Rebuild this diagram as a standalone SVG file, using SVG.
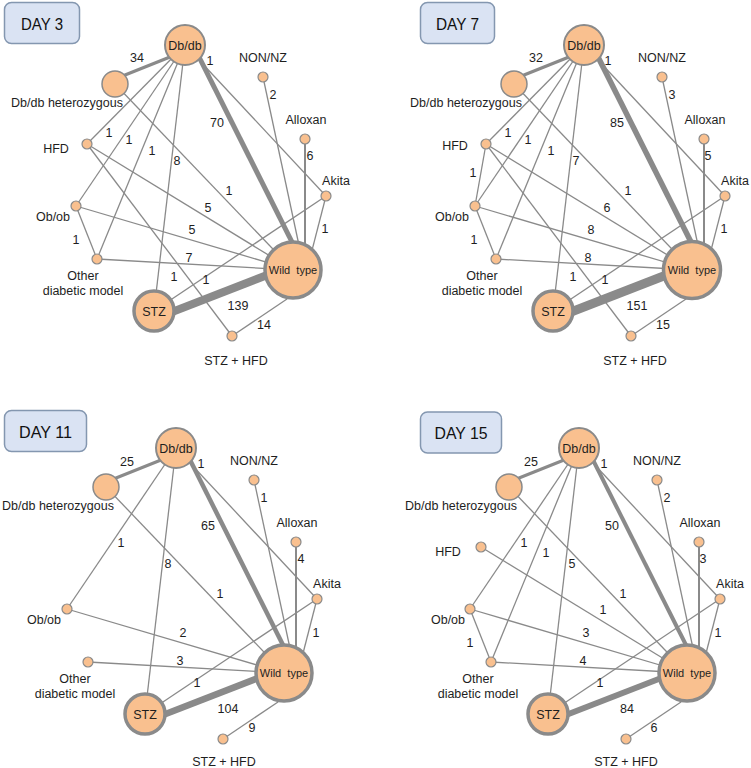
<svg xmlns="http://www.w3.org/2000/svg" width="751" height="768" viewBox="0 0 751 768">
<style>
.e{stroke:#8a8a8a;stroke-width:1.3;fill:none;stroke-linecap:butt}
.n{fill:#f9c08f;stroke:#8a8a8a;stroke-width:1.2}
.big{stroke-width:3.5}
.mid{stroke-width:2}
.het{stroke-width:1.5}
.t{font-family:"Liberation Sans",Arial,sans-serif;font-size:12.5px;fill:#1e1e1e;text-anchor:middle}
.wt{font-size:11px}
.box{fill:#dae3f3;stroke:#8497b0;stroke-width:1.5}
.bt{font-family:"Liberation Sans",Arial,sans-serif;font-size:17px;fill:#111;text-anchor:middle}
</style>

<!-- Titles -->
<g id="title-day3"><rect class="box" x="4.5" y="2.5" width="75" height="41" rx="7"/><text class="bt" x="42" y="30" textLength="42" lengthAdjust="spacingAndGlyphs">DAY 3</text></g>
<g id="title-day7"><rect class="box" x="420.5" y="2.5" width="74" height="41" rx="7"/><text class="bt" x="457.5" y="30" textLength="43" lengthAdjust="spacingAndGlyphs">DAY 7</text></g>
<g id="title-day11"><rect class="box" x="4.5" y="410.5" width="82" height="41" rx="7"/><text class="bt" x="45.5" y="438" textLength="53" lengthAdjust="spacingAndGlyphs">DAY 11</text></g>
<g id="title-day15"><rect class="box" x="420.5" y="412" width="81" height="41" rx="7"/><text class="bt" x="461" y="439" textLength="53" lengthAdjust="spacingAndGlyphs">DAY 15</text></g>

<!-- DAY 3 -->
<g id="day3">
 <g id="day3-connectors">
  <line class="e" x1="115" y1="79" x2="185" y2="51" style="stroke-width:3.3"/>
  <line class="e" x1="185" y1="45" x2="87" y2="144"/>
  <line class="e" x1="185" y1="45" x2="76" y2="206"/>
  <line class="e" x1="185" y1="45" x2="97" y2="259"/>
  <line class="e" x1="185" y1="45" x2="154" y2="311"/>
  <line class="e" x1="193" y1="45" x2="296" y2="250" style="stroke-width:5"/>
  <line class="e" x1="185" y1="45" x2="326" y2="196"/>
  <line class="e" x1="115" y1="84" x2="293" y2="270"/>
  <line class="e" x1="87" y1="144" x2="293" y2="270"/>
  <line class="e" x1="87" y1="144" x2="232" y2="336"/>
  <line class="e" x1="76" y1="206" x2="293" y2="270"/>
  <line class="e" x1="76" y1="206" x2="97" y2="259"/>
  <line class="e" x1="97" y1="259" x2="293" y2="270"/>
  <line class="e" x1="154" y1="319" x2="293" y2="265" style="stroke-width:8"/>
  <line class="e" x1="154" y1="311" x2="326" y2="196"/>
  <line class="e" x1="263" y1="77" x2="300" y2="250"/>
  <line class="e" x1="305" y1="139" x2="305" y2="250" style="stroke-width:2"/>
  <line class="e" x1="326" y1="196" x2="309" y2="262"/>
  <line class="e" x1="232" y1="336" x2="287" y2="299"/>
  <text class="t" x="137" y="61.5">34</text>
  <text class="t" x="210" y="64.5">1</text>
  <text class="t" x="273" y="98.5">2</text>
  <text class="t" x="310" y="159.5">6</text>
  <text class="t" x="217" y="126.5">70</text>
  <text class="t" x="109" y="136.5">1</text>
  <text class="t" x="129" y="143.5">1</text>
  <text class="t" x="152" y="154.5">1</text>
  <text class="t" x="177" y="164.5">8</text>
  <text class="t" x="229" y="194.5">1</text>
  <text class="t" x="208" y="211.5">5</text>
  <text class="t" x="192" y="233.5">5</text>
  <text class="t" x="189" y="261.5">7</text>
  <text class="t" x="76" y="243.5">1</text>
  <text class="t" x="174" y="280.5">1</text>
  <text class="t" x="206" y="283.5">1</text>
  <text class="t" x="238" y="309.5">139</text>
  <text class="t" x="264" y="328.5">14</text>
  <text class="t" x="325" y="232.5">1</text>
 </g>
 <g id="day3-dbdb"><circle class="n mid" cx="185" cy="45" r="20"/><text class="t" x="185" y="50">Db/db</text></g>
 <g id="day3-het"><circle class="n het" cx="115" cy="84" r="13"/><text class="t" x="67" y="107">Db/db heterozygous</text></g>
 <g id="day3-nonnz"><circle class="n" cx="263" cy="77" r="5"/><text class="t" x="263" y="62">NON/NZ</text></g>
 <g id="day3-alloxan"><circle class="n" cx="305" cy="139" r="5"/><text class="t" x="306" y="124">Alloxan</text></g>
 <g id="day3-akita"><circle class="n" cx="326" cy="196" r="5"/><text class="t" x="336" y="185">Akita</text></g>
 <g id="day3-hfd"><circle class="n" cx="87" cy="144" r="5"/><text class="t" x="56" y="153">HFD</text></g>
 <g id="day3-obob"><circle class="n" cx="76" cy="206" r="5"/><text class="t" x="53" y="221">Ob/ob</text></g>
 <g id="day3-other"><circle class="n" cx="97" cy="259" r="5"/><text class="t" x="83" y="280">Other</text><text class="t" x="83" y="295">diabetic model</text></g>
 <g id="day3-wild"><circle class="n big" cx="293" cy="270" r="28"/><text class="t wt" x="293" y="274" xml:space="preserve">Wild  type</text></g>
 <g id="day3-stz"><circle class="n big" cx="154" cy="311" r="20"/><text class="t" x="154" y="316">STZ</text></g>
 <g id="day3-stzhfd"><circle class="n" cx="232" cy="336" r="5"/><text class="t" x="236" y="365">STZ + HFD</text></g>
</g>

<!-- DAY 7 -->
<g id="day7" transform="translate(399,0)">
 <g id="day7-connectors">
  <line class="e" x1="115" y1="79" x2="185" y2="51" style="stroke-width:3.3"/>
  <line class="e" x1="185" y1="45" x2="87" y2="144"/>
  <line class="e" x1="185" y1="45" x2="76" y2="206"/>
  <line class="e" x1="185" y1="45" x2="97" y2="259"/>
  <line class="e" x1="185" y1="45" x2="154" y2="311"/>
  <line class="e" x1="193" y1="45" x2="296" y2="250" style="stroke-width:5.5"/>
  <line class="e" x1="185" y1="45" x2="326" y2="196"/>
  <line class="e" x1="115" y1="84" x2="293" y2="270"/>
  <line class="e" x1="87" y1="144" x2="293" y2="270"/>
  <line class="e" x1="87" y1="144" x2="232" y2="336"/>
  <line class="e" x1="87" y1="144" x2="76" y2="206"/>
  <line class="e" x1="76" y1="206" x2="293" y2="270"/>
  <line class="e" x1="76" y1="206" x2="97" y2="259"/>
  <line class="e" x1="97" y1="259" x2="293" y2="270"/>
  <line class="e" x1="154" y1="319" x2="293" y2="265" style="stroke-width:9"/>
  <line class="e" x1="154" y1="311" x2="326" y2="196"/>
  <line class="e" x1="263" y1="77" x2="300" y2="250"/>
  <line class="e" x1="305" y1="139" x2="305" y2="250" style="stroke-width:2"/>
  <line class="e" x1="326" y1="196" x2="309" y2="262"/>
  <line class="e" x1="232" y1="336" x2="287" y2="299"/>
  <text class="t" x="137" y="61.5">32</text>
  <text class="t" x="209" y="64.5">1</text>
  <text class="t" x="273" y="98.5">3</text>
  <text class="t" x="309" y="159.5">5</text>
  <text class="t" x="218" y="126.5">85</text>
  <text class="t" x="109" y="136.5">1</text>
  <text class="t" x="129" y="143.5">1</text>
  <text class="t" x="152" y="154.5">1</text>
  <text class="t" x="177" y="164.5">7</text>
  <text class="t" x="74" y="176.5">1</text>
  <text class="t" x="229" y="194.5">1</text>
  <text class="t" x="208" y="211.5">6</text>
  <text class="t" x="192" y="233.5">8</text>
  <text class="t" x="189" y="261.5">8</text>
  <text class="t" x="75" y="243.5">1</text>
  <text class="t" x="174" y="280.5">1</text>
  <text class="t" x="206" y="283.5">1</text>
  <text class="t" x="238" y="309.5">151</text>
  <text class="t" x="264" y="328.5">15</text>
  <text class="t" x="325" y="232.5">1</text>
 </g>
 <g id="day7-dbdb"><circle class="n mid" cx="185" cy="45" r="20"/><text class="t" x="185" y="50">Db/db</text></g>
 <g id="day7-het"><circle class="n het" cx="115" cy="84" r="13"/><text class="t" x="67" y="107">Db/db heterozygous</text></g>
 <g id="day7-nonnz"><circle class="n" cx="263" cy="77" r="5"/><text class="t" x="263" y="62">NON/NZ</text></g>
 <g id="day7-alloxan"><circle class="n" cx="305" cy="139" r="5"/><text class="t" x="306" y="124">Alloxan</text></g>
 <g id="day7-akita"><circle class="n" cx="326" cy="196" r="5"/><text class="t" x="336" y="185">Akita</text></g>
 <g id="day7-hfd"><circle class="n" cx="87" cy="144" r="5"/><text class="t" x="56" y="150">HFD</text></g>
 <g id="day7-obob"><circle class="n" cx="76" cy="206" r="5"/><text class="t" x="53" y="221">Ob/ob</text></g>
 <g id="day7-other"><circle class="n" cx="97" cy="259" r="5"/><text class="t" x="83" y="280">Other</text><text class="t" x="83" y="295">diabetic model</text></g>
 <g id="day7-wild"><circle class="n big" cx="293" cy="270" r="28.5"/><text class="t wt" x="293" y="274" xml:space="preserve">Wild  type</text></g>
 <g id="day7-stz"><circle class="n big" cx="154" cy="311" r="20"/><text class="t" x="154" y="316">STZ</text></g>
 <g id="day7-stzhfd"><circle class="n" cx="232" cy="336" r="5"/><text class="t" x="236" y="365">STZ + HFD</text></g>
</g>

<!-- DAY 11 -->
<g id="day11" transform="translate(-9,403)">
 <g id="day11-connectors">
  <line class="e" x1="115" y1="79" x2="185" y2="51" style="stroke-width:3"/>
  <line class="e" x1="185" y1="45" x2="76" y2="206"/>
  <line class="e" x1="185" y1="45" x2="154" y2="311"/>
  <line class="e" x1="193" y1="45" x2="296" y2="250" style="stroke-width:4.5"/>
  <line class="e" x1="185" y1="45" x2="326" y2="196"/>
  <line class="e" x1="115" y1="84" x2="293" y2="270"/>
  <line class="e" x1="76" y1="206" x2="293" y2="270"/>
  <line class="e" x1="97" y1="259" x2="293" y2="270"/>
  <line class="e" x1="154" y1="319" x2="293" y2="265" style="stroke-width:6.7"/>
  <line class="e" x1="154" y1="311" x2="326" y2="196"/>
  <line class="e" x1="263" y1="77" x2="300" y2="250"/>
  <line class="e" x1="305" y1="139" x2="305" y2="250" style="stroke-width:2"/>
  <line class="e" x1="326" y1="196" x2="309" y2="262"/>
  <line class="e" x1="232" y1="336" x2="287" y2="299"/>
  <text class="t" x="136" y="62.5">25</text>
  <text class="t" x="210" y="64.5">1</text>
  <text class="t" x="273" y="98.5">1</text>
  <text class="t" x="310" y="159.5">4</text>
  <text class="t" x="217" y="126.5">65</text>
  <text class="t" x="130" y="143.5">1</text>
  <text class="t" x="177" y="164.5">8</text>
  <text class="t" x="229" y="194.5">1</text>
  <text class="t" x="192" y="233.5">2</text>
  <text class="t" x="189" y="261.5">3</text>
  <text class="t" x="206" y="283.5">1</text>
  <text class="t" x="237" y="309.5">104</text>
  <text class="t" x="261" y="328.5">9</text>
  <text class="t" x="325" y="233.5">1</text>
 </g>
 <g id="day11-dbdb"><circle class="n mid" cx="185" cy="45" r="20"/><text class="t" x="185" y="50">Db/db</text></g>
 <g id="day11-het"><circle class="n het" cx="115" cy="84" r="13"/><text class="t" x="67" y="107">Db/db heterozygous</text></g>
 <g id="day11-nonnz"><circle class="n" cx="263" cy="77" r="5"/><text class="t" x="263" y="62">NON/NZ</text></g>
 <g id="day11-alloxan"><circle class="n" cx="305" cy="139" r="5"/><text class="t" x="306" y="124">Alloxan</text></g>
 <g id="day11-akita"><circle class="n" cx="326" cy="196" r="5"/><text class="t" x="336" y="185">Akita</text></g>
 <g id="day11-obob"><circle class="n" cx="76" cy="206" r="5"/><text class="t" x="53" y="221">Ob/ob</text></g>
 <g id="day11-other"><circle class="n" cx="97" cy="259" r="5"/><text class="t" x="84" y="280">Other</text><text class="t" x="84" y="295">diabetic model</text></g>
 <g id="day11-wild"><circle class="n big" cx="293" cy="270" r="28"/><text class="t wt" x="293" y="274" xml:space="preserve">Wild  type</text></g>
 <g id="day11-stz"><circle class="n big" cx="154" cy="311" r="20"/><text class="t" x="154" y="316">STZ</text></g>
 <g id="day11-stzhfd"><circle class="n" cx="232" cy="336" r="5"/><text class="t" x="233" y="363">STZ + HFD</text></g>
</g>

<!-- DAY 15 -->
<g id="day15" transform="translate(394,403)">
 <g id="day15-connectors">
  <line class="e" x1="115" y1="79" x2="185" y2="51" style="stroke-width:3"/>
  <line class="e" x1="185" y1="45" x2="76" y2="206"/>
  <line class="e" x1="185" y1="45" x2="97" y2="259"/>
  <line class="e" x1="185" y1="45" x2="154" y2="311"/>
  <line class="e" x1="193" y1="45" x2="296" y2="250" style="stroke-width:4"/>
  <line class="e" x1="185" y1="45" x2="326" y2="196"/>
  <line class="e" x1="115" y1="84" x2="293" y2="270"/>
  <line class="e" x1="87" y1="144" x2="293" y2="270"/>
  <line class="e" x1="76" y1="206" x2="293" y2="270"/>
  <line class="e" x1="76" y1="206" x2="97" y2="259"/>
  <line class="e" x1="97" y1="259" x2="293" y2="270"/>
  <line class="e" x1="154" y1="319" x2="293" y2="265" style="stroke-width:6"/>
  <line class="e" x1="154" y1="311" x2="326" y2="196"/>
  <line class="e" x1="263" y1="77" x2="300" y2="250"/>
  <line class="e" x1="305" y1="139" x2="305" y2="250" style="stroke-width:2"/>
  <line class="e" x1="326" y1="196" x2="309" y2="262"/>
  <line class="e" x1="232" y1="336" x2="287" y2="299"/>
  <text class="t" x="137" y="62.5">25</text>
  <text class="t" x="210" y="64.5">1</text>
  <text class="t" x="273" y="98.5">2</text>
  <text class="t" x="309" y="159.5">3</text>
  <text class="t" x="218" y="126.5">50</text>
  <text class="t" x="130" y="143.5">1</text>
  <text class="t" x="152" y="153.5">1</text>
  <text class="t" x="178" y="164.5">5</text>
  <text class="t" x="229" y="194.5">1</text>
  <text class="t" x="209" y="210.5">1</text>
  <text class="t" x="192" y="233.5">3</text>
  <text class="t" x="76" y="243.5">1</text>
  <text class="t" x="189" y="261.5">4</text>
  <text class="t" x="206" y="283.5">1</text>
  <text class="t" x="233" y="309.5">84</text>
  <text class="t" x="260" y="328.5">6</text>
  <text class="t" x="324" y="233.5">1</text>
 </g>
 <g id="day15-dbdb"><circle class="n mid" cx="185" cy="45" r="20"/><text class="t" x="185" y="50">Db/db</text></g>
 <g id="day15-het"><circle class="n het" cx="115" cy="84" r="13"/><text class="t" x="67" y="107">Db/db heterozygous</text></g>
 <g id="day15-nonnz"><circle class="n" cx="263" cy="77" r="5"/><text class="t" x="263" y="62">NON/NZ</text></g>
 <g id="day15-alloxan"><circle class="n" cx="305" cy="139" r="5"/><text class="t" x="306" y="124">Alloxan</text></g>
 <g id="day15-akita"><circle class="n" cx="326" cy="196" r="5"/><text class="t" x="336" y="185">Akita</text></g>
 <g id="day15-hfd"><circle class="n" cx="87" cy="144" r="5"/><text class="t" x="54" y="153">HFD</text></g>
 <g id="day15-obob"><circle class="n" cx="76" cy="206" r="5"/><text class="t" x="54" y="221">Ob/ob</text></g>
 <g id="day15-other"><circle class="n" cx="97" cy="259" r="5"/><text class="t" x="84" y="280">Other</text><text class="t" x="84" y="295">diabetic model</text></g>
 <g id="day15-wild"><circle class="n big" cx="293" cy="270" r="28"/><text class="t wt" x="293" y="274" xml:space="preserve">Wild  type</text></g>
 <g id="day15-stz"><circle class="n big" cx="154" cy="311" r="20"/><text class="t" x="154" y="316">STZ</text></g>
 <g id="day15-stzhfd"><circle class="n" cx="232" cy="336" r="5"/><text class="t" x="232" y="363">STZ + HFD</text></g>
</g>
</svg>
